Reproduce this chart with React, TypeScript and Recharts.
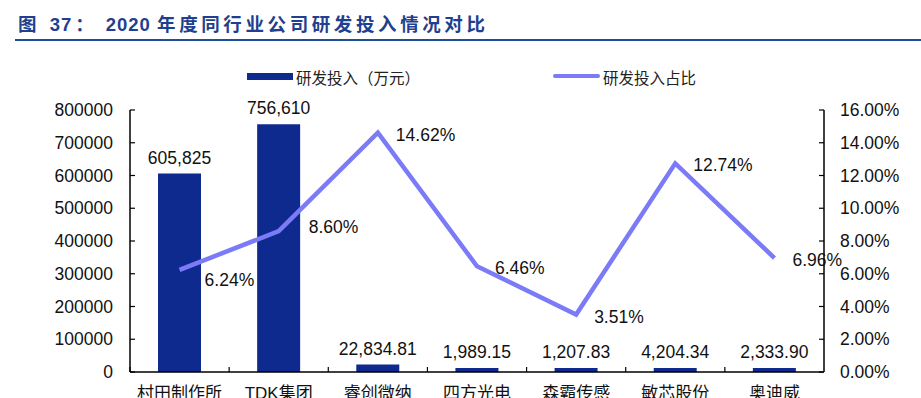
import { ComposedChart, Bar, Line, XAxis, YAxis, Legend, LabelList } from 'recharts';

const companies = ['村田制作所', 'TDK集团', '睿创微纳', '四方光电', '森霸传感', '敏芯股份', '奥迪威'];
const rdSpend = [605825, 756610, 22834.81, 1989.15, 1207.83, 4204.34, 2333.9];
const rdRatio = [6.24, 8.6, 14.62, 6.46, 3.51, 12.74, 6.96];
const leftTicks = [0, 100000, 200000, 300000, 400000, 500000, 600000, 700000, 800000];
const rightTicks = [0, 2, 4, 6, 8, 10, 12, 14, 16];

const chartData = companies.map((name, i) => ({ name, spend: rdSpend[i], ratio: rdRatio[i] }));

const BAR_COLOR = '#0f2a8f';
const LINE_COLOR = '#7b7bf7';
const FONT = '"Liberation Sans", Arial, "Noto Sans CJK SC", sans-serif';

const fmtSpend = (v: number) =>
  Number.isInteger(v) ? v.toLocaleString('en-US') : v.toLocaleString('en-US', { minimumFractionDigits: 2, maximumFractionDigits: 2 });

// a couple of the ratio labels sit a bit off in the source
const ratioNudge: Record<number, [number, number]> = { 0: [25, 10], 1: [30, -4] };

function RatioLabel(props: any) {
  const { x, y, value, index } = props;
  const [dx, dy] = ratioNudge[index] || [18, 2];
  return (
    <text x={x + dx} y={y + dy} dominantBaseline="central" textAnchor="start" fontSize={17.5} fill="#111" fontFamily={FONT}>
      {value.toFixed(2)}%
    </text>
  );
}

function CategoryTick(props: any) {
  const { x, y, payload } = props;
  const half = payload.offset || 49.57;
  const axisY = y - 15;
  return (
    <g>
      <line x1={x - half} x2={x - half} y1={axisY} y2={axisY - 5} stroke="#000" strokeWidth={1.2} />
      <text x={x} y={y} dy="0.71em" textAnchor="middle" fontSize={17} fill="#111" fontFamily={FONT}>
        {payload.value}
      </text>
    </g>
  );
}

function LegendContent() {
  return (
    <div style={{ position: 'relative', width: 921, height: 24, fontFamily: FONT, fontSize: 15.5, color: '#222' }}>
      <div style={{ position: 'absolute', left: 247, top: 9, width: 46, height: 7, background: BAR_COLOR }} />
      <span style={{ position: 'absolute', left: 296, top: 2, whiteSpace: 'nowrap' }}>研发投入（万元）</span>
      <div style={{ position: 'absolute', left: 553, top: 10, width: 47, height: 4, background: LINE_COLOR, borderRadius: 2 }} />
      <span style={{ position: 'absolute', left: 603, top: 2, whiteSpace: 'nowrap' }}>研发投入占比</span>
    </div>
  );
}

export default function App() {
  return (
    <div style={{ position: 'absolute', left: 0, top: 0, width: 921, height: 398, overflow: 'hidden', background: '#fff' }}>
      <div
        style={{
          position: 'absolute',
          left: 18,
          top: 10,
          fontFamily: FONT,
          fontWeight: 'bold',
          fontSize: 18.5,
          color: '#1f3f8f',
          whiteSpace: 'nowrap',
        }}
      >
        <span style={{ letterSpacing: 4 }}>图 </span>
        <span style={{ letterSpacing: 1 }}>37</span>
        <span style={{ marginLeft: 3, marginRight: 12 }}>：</span>
        <span style={{ letterSpacing: 1 }}>2020 </span>
        <span style={{ letterSpacing: 3.6 }}>年度同行业公司研发投入情况对比</span>
      </div>
      <div style={{ position: 'absolute', left: 15, top: 39, width: 906, height: 2, background: '#1f4e9a' }} />
      <div style={{ position: 'absolute', left: 0, top: 0 }}>
        <ComposedChart width={921} height={420} data={chartData} margin={{ top: 110, right: 0, bottom: 0, left: 0 }}>
          <XAxis
            dataKey="name"
            height={48}
            tickLine={false}
            tickSize={0}
            tickMargin={15}
            interval={0}
            axisLine={{ stroke: '#000', strokeWidth: 1.5 }}
            tick={<CategoryTick />}
          />
          <YAxis
            yAxisId="left"
            width={130}
            domain={[0, 800000]}
            ticks={leftTicks}
            tickSize={-5}
            tickMargin={22}
            axisLine={{ stroke: '#000', strokeWidth: 1.5 }}
            tickLine={{ stroke: '#000', strokeWidth: 1.2 }}
            tick={{ fill: '#111', fontSize: 17.5, fontFamily: FONT }}
          />
          <YAxis
            yAxisId="right"
            orientation="right"
            width={97}
            domain={[0, 16]}
            ticks={rightTicks}
            tickFormatter={(v: number) => v.toFixed(2) + '%'}
            tickSize={-5}
            tickMargin={21}
            axisLine={{ stroke: '#000', strokeWidth: 1.5 }}
            tickLine={{ stroke: '#000', strokeWidth: 1.2 }}
            tick={{ fill: '#111', fontSize: 17.5, fontFamily: FONT, textAnchor: 'start' }}
          />
          <Legend
            layout="horizontal"
            verticalAlign="middle"
            align="center"
            wrapperStyle={{ top: 64, left: 0, width: 921 }}
            content={<LegendContent />}
          />
          <Bar yAxisId="left" dataKey="spend" fill={BAR_COLOR} barSize={43} minPointSize={4} isAnimationActive={false}>
            <LabelList
              dataKey="spend"
              position="top"
              offset={10}
              formatter={(v: any) => fmtSpend(Number(v))}
              style={{ fill: '#111', fontSize: 17.5, fontFamily: FONT }}
            />
          </Bar>
          <Line
            yAxisId="right"
            dataKey="ratio"
            stroke={LINE_COLOR}
            strokeWidth={4.5}
            dot={false}
            activeDot={false}
            isAnimationActive={false}
          >
            <LabelList dataKey="ratio" content={<RatioLabel />} />
          </Line>
        </ComposedChart>
      </div>
    </div>
  );
}
